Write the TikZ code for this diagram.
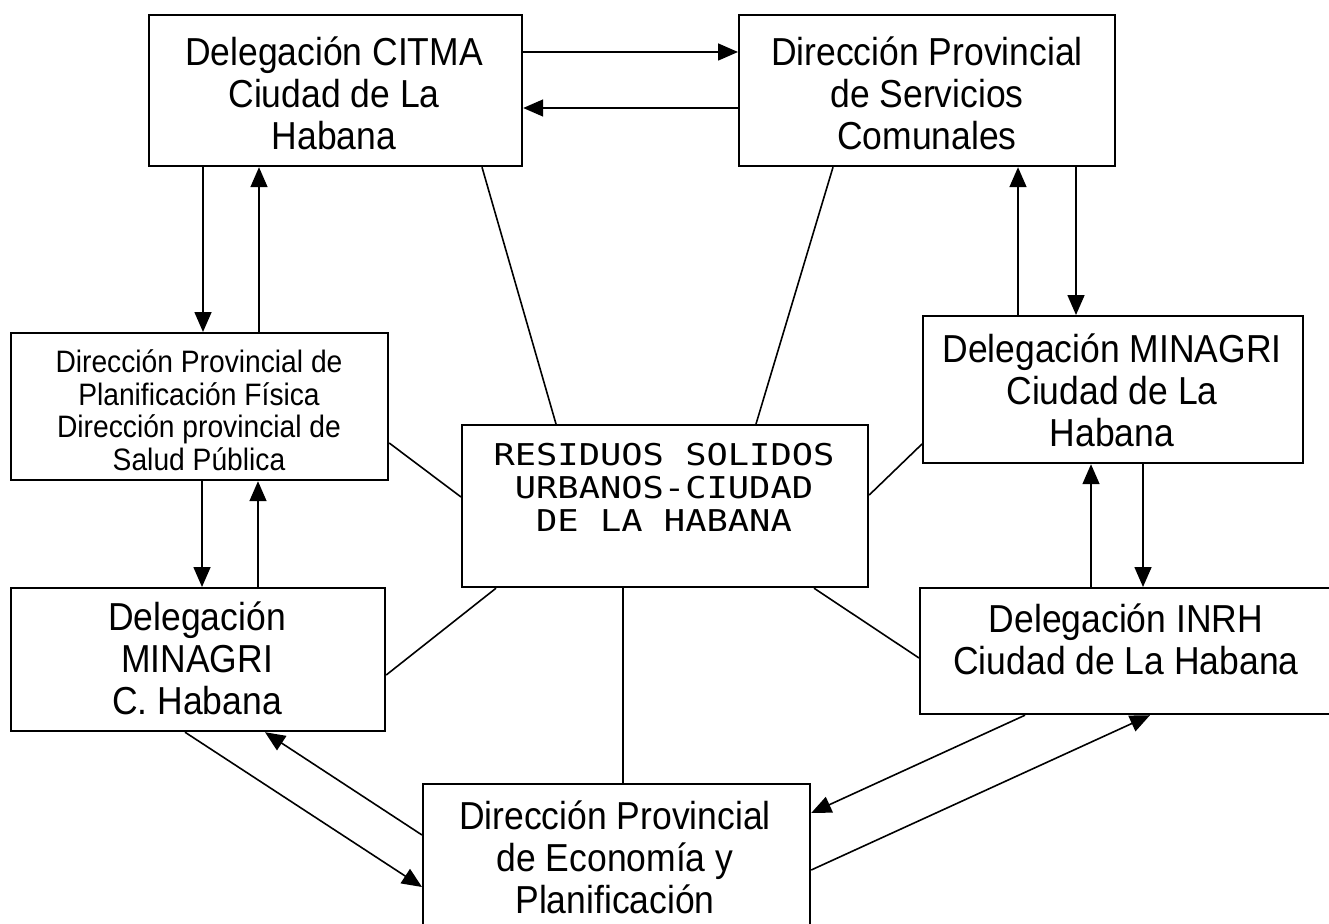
\documentclass[tikz,border=0pt]{standalone}
\usepackage{fontspec}
\setmainfont{Liberation Sans}[FakeStretch=0.91]
\newfontfamily\resmono{DejaVu Sans Mono}[FakeStretch=1.18]
\usetikzlibrary{arrows.meta,calc}
\begin{document}
\begin{tikzpicture}[x=1pt,y=-1pt,
  box/.style={draw, line width=2.2pt, inner sep=0pt, anchor=north west},
  big/.style={align=center, inner sep=0pt, font=\fontsize{39}{42}\selectfont},
  small/.style={align=center, inner sep=0pt, font=\fontsize{31}{32.5}\selectfont},
  mono/.style={align=center, inner sep=0pt, font=\resmono\fontsize{30}{33}\selectfont},
  link/.style={line width=1.6pt},
  arr/.style={line width=1.6pt, -{Triangle[length=20pt,width=17pt]}},
]
\useasboundingbox (0,0) rectangle (1329,923);
\clip (0,0) rectangle (1329,923);

% boxes
\node[box, minimum width=373pt, minimum height=151pt] (citma) at (148,14) {};
\node[box, minimum width=376pt, minimum height=151pt] (serv) at (738,14) {};
\node[box, minimum width=377pt, minimum height=147pt] (plan) at (10,332) {};
\node[box, minimum width=406pt, minimum height=162pt] (res) at (461,424) {};
\node[box, minimum width=380pt, minimum height=147pt] (minr) at (922,315) {};
\node[box, minimum width=374pt, minimum height=143pt] (minl) at (10,587) {};
\node[box, minimum width=420pt, minimum height=126pt] (inrh) at (919,587) {};
\node[box, minimum width=387pt, minimum height=200pt] (econ) at (422,783) {};

% texts
\node[big] (citmaT) at (334,93) {Delegación CITMA\\Ciudad de La\\Habana};
\node[big] (servT) at (927,93) {Dirección Provincial\\de Servicios\\Comunales};
\node[small] (planT) at (199,410) {Dirección Provincial de\\Planificación Física\\Dirección provincial de\\Salud Pública};
\node[mono] (resT) at (664,487) {RESIDUOS SOLIDOS\\URBANOS-CIUDAD\\DE LA HABANA};
\node[big] (minrT) at (1112,390) {Delegación MINAGRI\\Ciudad de La\\Habana};
\node[big] (minlT) at (197,658) {Delegación\\MINAGRI\\C. Habana};
\node[big] (inrhT) at (1126,639) {Delegación INRH\\Ciudad de La Habana};
\node[big] (econT) at (615,857) {Dirección Provincial\\de Economía y\\Planificación};

% plain links to the centre
\draw[link] (citma.south -| 482,0) -- (res.north -| 556,0);
\draw[link] (serv.south -| 833,0) -- (res.north -| 756,0);
\draw[link] (plan.east |- 0,443) -- (res.west |- 0,497);
\draw[link] (minr.west |- 0,444) -- (res.east |- 0,495);
\draw[link] (res.south -| 496,0) -- (minl.east |- 0,675);
\draw[link] (res.south -| 814,0) -- (inrh.west |- 0,658);
\draw[link] (res.south -| 623,0) -- (econ.north -| 623,0);

% arrows
\draw[arr] (citma.east |- 0,52) -- (serv.west |- 0,52);
\draw[arr] (serv.west |- 0,108) -- (citma.east |- 0,108);
\draw[arr] (citma.south -| 203,0) -- (plan.north -| 203,0);
\draw[arr] (plan.north -| 259,0) -- (citma.south -| 259,0);
\draw[arr] (plan.south -| 202,0) -- (minl.north -| 202,0);
\draw[arr] (minl.north -| 258,0) -- (plan.south -| 258,0);
\draw[arr] (minr.north -| 1018,0) -- (serv.south -| 1018,0);
\draw[arr] (serv.south -| 1076,0) -- (minr.north -| 1076,0);
\draw[arr] (inrh.north -| 1091,0) -- (minr.south -| 1091,0);
\draw[arr] (minr.south -| 1143,0) -- (inrh.north -| 1143,0);
\draw[arr] (minl.south -| 185,0) -- (econ.west |- 0,887);
\draw[arr] (econ.west |- 0,835) -- (minl.south -| 265,0);
\draw[arr] (inrh.south -| 1025,0) -- (econ.east |- 0,813);
\draw[arr] (econ.east |- 0,870) -- (inrh.south -| 1150,0);
\end{tikzpicture}
\end{document}
